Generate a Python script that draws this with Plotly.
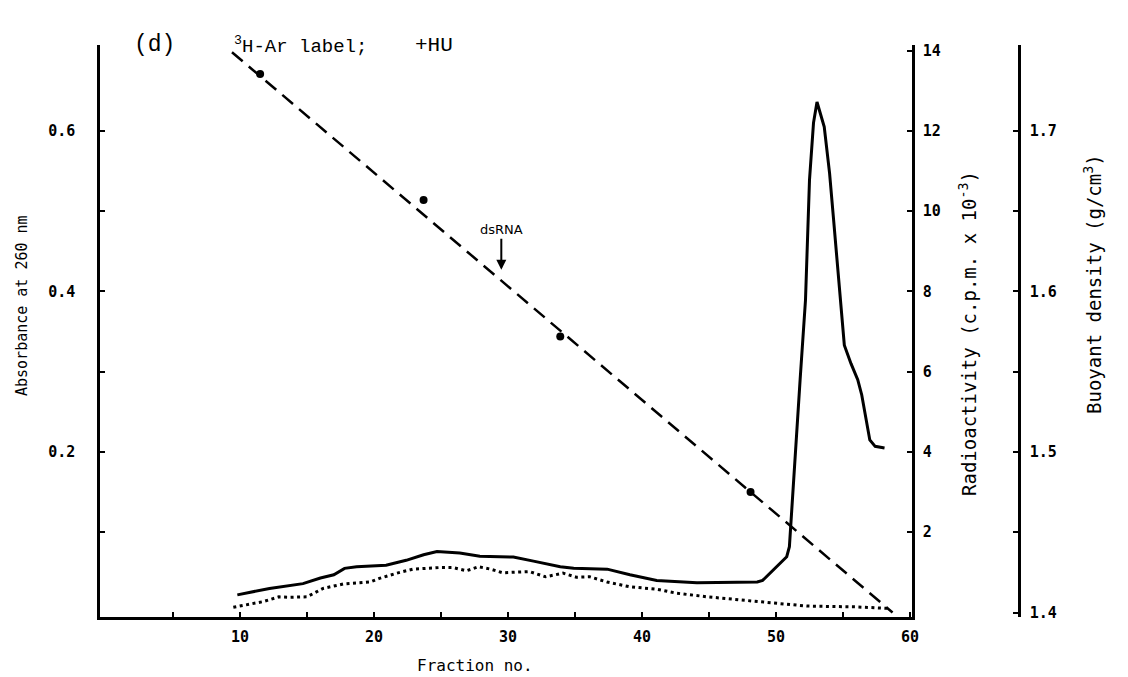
import plotly.graph_objects as go

# ---- data ----
abs_fraction = [9.8, 12.2, 14.7, 16.0, 17.0, 17.8, 18.7, 20.9, 22.4, 23.7, 24.7, 26.4, 27.9,
                30.4, 31.9, 33.9, 34.9, 37.4, 39.1, 41.1, 44.1, 48.6, 49.0, 49.8, 50.8, 51.0,
                51.3, 51.8, 52.2, 52.5, 52.8, 53.06, 53.6, 54.0, 54.3, 54.8, 55.1, 55.6, 56.1,
                56.4, 57.0, 57.4, 58.1]
absorbance = [0.022, 0.030, 0.036, 0.043, 0.047, 0.055, 0.057, 0.059, 0.065, 0.072, 0.076, 0.074,
              0.070, 0.069, 0.064, 0.057, 0.055, 0.054, 0.047, 0.040, 0.037, 0.038, 0.040, 0.053,
              0.0695, 0.082, 0.165, 0.29, 0.389, 0.539, 0.61, 0.636, 0.605, 0.547, 0.489, 0.389,
              0.333, 0.31, 0.290, 0.271, 0.215, 0.207, 0.205]

rad_fraction = [9.5, 10.5, 11.7, 12.9, 13.7, 15.0, 16.2, 17.7, 19.7, 20.4, 21.7, 22.9, 24.9, 25.9,
                26.9, 27.8, 28.7, 29.6, 31.6, 32.8, 34.1, 35.1, 36.1, 37.4, 39.1, 41.1, 42.6,
                44.9, 47.5, 49.8, 52.3, 56.0, 58.5]
radioactivity = [0.13, 0.19, 0.27, 0.39, 0.38, 0.39, 0.60, 0.71, 0.76, 0.85, 0.98, 1.08, 1.12,
                 1.12, 1.04, 1.14, 1.08, 0.99, 1.02, 0.89, 0.98, 0.88, 0.89, 0.76, 0.64, 0.58,
                 0.48, 0.39, 0.31, 0.23, 0.16, 0.14, 0.10]

density_fraction = [11.5, 23.7, 33.9, 48.1]
density = [1.7355, 1.657, 1.572, 1.475]

gradient_fraction = [9.4, 58.7]
gradient_density = [1.749, 1.400]

x_ticks = [10, 20, 30, 40, 50, 60]
x_minor = [5, 15, 25, 35, 45, 55]
abs_ticks = [0.2, 0.4, 0.6]
abs_minor = [0.1, 0.3, 0.5]
rad_ticks = [2, 4, 6, 8, 10, 12, 14]
dens_ticks = [1.4, 1.5, 1.6, 1.7]
dens_minor = [1.45, 1.55, 1.65]

MONO = "DejaVu Sans Mono"
OFF = 8  # page body margin
W, H = 1128 - OFF, 677 - OFF
ML, MR, MT, MB = 100 - OFF, 28, 45 - OFF, 60
PW, PH = W - ML - MR, H - MT - MB


def px(xp):  # page pixel -> paper fraction
    return (xp - OFF - ML) / PW


def py(yp):
    return (H - MB - (yp - OFF)) / PH


fig = go.Figure()

fig.add_trace(go.Scatter(x=abs_fraction, y=absorbance, mode="lines",
                         line=dict(color="black", width=3), yaxis="y", showlegend=False))
fig.add_trace(go.Scatter(x=rad_fraction, y=radioactivity, mode="lines",
                         line=dict(color="black", width=3, dash="3px,3.5px"), yaxis="y2",
                         showlegend=False))
fig.add_trace(go.Scatter(x=gradient_fraction, y=gradient_density, mode="lines",
                         line=dict(color="black", width=2.5, dash="14px,8px"), yaxis="y3",
                         showlegend=False))
fig.add_trace(go.Scatter(x=density_fraction, y=density, mode="markers",
                         marker=dict(color="black", size=8), yaxis="y3", showlegend=False))

tick_font = dict(family=MONO, size=15, color="black", weight="bold")
axis_common = dict(showgrid=False, zeroline=False, showline=True, linecolor="black",
                   linewidth=2.5, ticks="inside", tickcolor="black", tickwidth=2, ticklen=5,
                   tickfont=tick_font)
minor_common = dict(ticks="inside", ticklen=5, tickwidth=2, tickcolor="black", showgrid=False)

xdom_end = px(912)

fig.update_layout(
    width=W, height=H,
    margin=dict(l=ML, r=MR, t=MT, b=MB),
    paper_bgcolor="white", plot_bgcolor="white",
    xaxis=dict(domain=[0, xdom_end], range=[-0.45, 60.15], tickvals=x_ticks,
               minor=dict(tickvals=x_minor, **minor_common),
               ticklabelstandoff=4, **axis_common),
    yaxis=dict(range=[-0.0056, 0.707], tickvals=abs_ticks,
               minor=dict(tickvals=abs_minor, **minor_common),
               ticklabelstandoff=19, **axis_common),
    yaxis2=dict(range=[-0.112, 14.14], overlaying="y", side="right", anchor="x",
                tickvals=rad_ticks, ticklabelstandoff=5, **axis_common),
    yaxis3=dict(range=[1.3972, 1.7535], overlaying="y", side="right", anchor="free",
                position=px(1019), tickvals=dens_ticks,
                minor=dict(tickvals=dens_minor, **minor_common),
                ticklabelstandoff=6, **axis_common),
)

title_font = dict(family="Liberation Mono", size=19, color="black")
fig.add_annotation(xref="paper", yref="paper", x=px(132), y=py(45), text="(d)",
                   xanchor="left", yanchor="middle", showarrow=False,
                   font=dict(family="Liberation Mono", size=23, color="black"))
fig.add_annotation(xref="paper", yref="paper", x=px(232), y=py(45),
                   text="<sup>3</sup>H-Ar label;", xanchor="left", yanchor="middle",
                   showarrow=False, font=title_font)
fig.add_annotation(xref="paper", yref="paper", x=px(413), y=py(45), text="+HU",
                   xanchor="left", yanchor="middle", showarrow=False,
                   font=dict(family="Liberation Mono", size=21, color="black"))

fig.add_annotation(xref="paper", yref="paper", x=px(475), y=py(665), text="Fraction no.",
                   showarrow=False, font=dict(family=MONO, size=16, color="black"),
                   xanchor="center", yanchor="middle")
fig.add_annotation(xref="paper", yref="paper", x=px(22), y=py(306),
                   text="Absorbance at 260 nm", textangle=-90, showarrow=False,
                   font=dict(family=MONO, size=15, color="black"),
                   xanchor="center", yanchor="middle")
fig.add_annotation(xref="paper", yref="paper", x=px(968), y=py(334),
                   text="Radioactivity (c.p.m. x 10<sup>-3</sup>)", textangle=-90,
                   showarrow=False, font=dict(family=MONO, size=19, color="black"),
                   xanchor="center", yanchor="middle")
fig.add_annotation(xref="paper", yref="paper", x=px(1093), y=py(284),
                   text="Buoyant density (g/cm<sup>3</sup>)", textangle=-90,
                   showarrow=False, font=dict(family=MONO, size=19, color="black"),
                   xanchor="center", yanchor="middle")

# dsRNA marker
fig.add_annotation(x=29.5, y=0.427, xref="x", yref="y", text="dsRNA", showarrow=True,
                   arrowhead=2, arrowsize=1, arrowwidth=2, arrowcolor="black", ax=0, ay=-40,
                   font=dict(family="DejaVu Sans", size=13, color="black"))

fig.write_html("out.html")
